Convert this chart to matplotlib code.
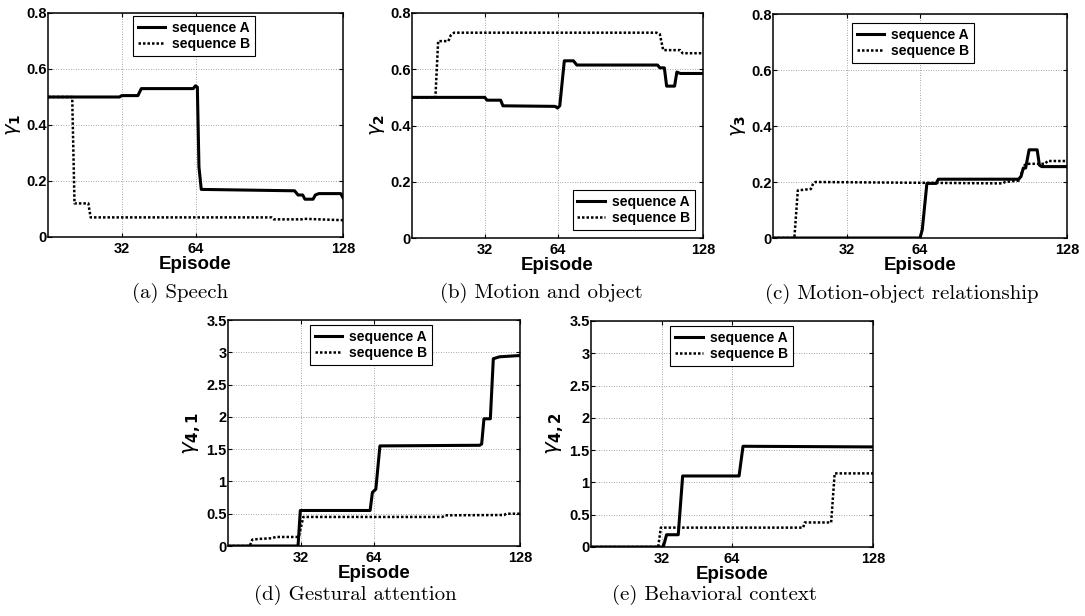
import matplotlib
matplotlib.use("Agg")
import matplotlib.pyplot as plt

# ---- data (episode, value) ----
A_a_x = [0, 31, 32, 39, 40.5, 63, 64, 64.8, 65.5, 66.5, 107, 108.5, 110.5, 111.5, 115, 116, 117.5, 127, 128]
A_a_y = [0.50, 0.50, 0.505, 0.505, 0.53, 0.53, 0.54, 0.535, 0.25, 0.17, 0.165, 0.15, 0.15, 0.135, 0.135, 0.15, 0.155, 0.155, 0.14]
B_a_x = [0, 10.5, 11.5, 17.5, 18.5, 97, 98, 110, 111, 128]
B_a_y = [0.50, 0.50, 0.12, 0.12, 0.07, 0.07, 0.063, 0.063, 0.065, 0.06]

A_b_x = [0, 32, 33, 39, 40, 63, 64, 65, 67, 71, 72.5, 108, 109, 111, 112, 115.5, 116.5, 118, 128]
A_b_y = [0.50, 0.50, 0.49, 0.49, 0.47, 0.468, 0.462, 0.47, 0.63, 0.63, 0.615, 0.615, 0.605, 0.605, 0.54, 0.54, 0.59, 0.585, 0.585]
B_b_x = [0, 10.3, 11.5, 16, 17, 18.5, 107.5, 109, 110.5, 118, 119, 128]
B_b_y = [0.50, 0.50, 0.70, 0.70, 0.72, 0.73, 0.73, 0.725, 0.668, 0.668, 0.657, 0.657]

A_c_x = [0, 64, 65, 67, 71, 72, 107, 108, 109, 110, 111.5, 115, 116, 117, 128]
A_c_y = [0, 0, 0.03, 0.195, 0.195, 0.21, 0.21, 0.22, 0.25, 0.25, 0.315, 0.315, 0.26, 0.255, 0.255]
B_c_x = [0, 9.3, 10.8, 16.5, 17.5, 18.5, 100, 101, 107, 109.5, 110.5, 118.5, 119.5, 128]
B_c_y = [0, 0, 0.17, 0.175, 0.195, 0.2, 0.195, 0.2, 0.205, 0.26, 0.265, 0.265, 0.275, 0.275]

A_d_x = [0, 30.7, 31.7, 62.3, 63.3, 64.8, 66.6, 110.3, 111.2, 112.2, 115, 116.3, 119, 128]
A_d_y = [0, 0, 0.55, 0.55, 0.83, 0.88, 1.55, 1.56, 1.58, 1.97, 1.97, 2.9, 2.93, 2.95]
B_d_x = [0, 9.5, 10.7, 14, 19, 21, 31, 33, 94, 95, 121, 122, 128]
B_d_y = [0, 0, 0.10, 0.11, 0.12, 0.14, 0.14, 0.45, 0.45, 0.475, 0.48, 0.50, 0.50]

A_e_x = [0, 32.8, 34.3, 39.6, 41.6, 67.2, 69, 128]
A_e_y = [0, 0, 0.19, 0.19, 1.10, 1.10, 1.56, 1.55]
B_e_x = [0, 30.5, 31.7, 96.3, 97, 109, 110.6, 128]
B_e_y = [0, 0, 0.30, 0.30, 0.38, 0.38, 1.14, 1.14]

x_ticks = [32, 64, 128]
y_ticks_small = [0, 0.2, 0.4, 0.6, 0.8]
y_labels_small = ["0", "0.2", "0.4", "0.6", "0.8"]
y_ticks_big = [0, 0.5, 1, 1.5, 2, 2.5, 3, 3.5]
y_labels_big = ["0", "0.5", "1", "1.5", "2", "2.5", "3", "3.5"]
series_names = ["sequence A", "sequence B"]
captions = ["(a) Speech", "(b) Motion and object", "(c) Motion-object relationship",
            "(d) Gestural attention", "(e) Behavioral context"]
ylabels = [r"$\gamma_\mathbf{1}$", r"$\gamma_\mathbf{2}$", r"$\gamma_\mathbf{3}$",
           r"$\gamma_{\mathbf{4,1}}$", r"$\gamma_{\mathbf{4,2}}$"]

W, H = 1085, 616
fig = plt.figure(figsize=(W / 100, H / 100), dpi=100)
plt.rcParams['mathtext.fontset'] = 'dejavusans'

# axes boxes in pixels: left, right, top, bottom
boxes = [(48, 343, 13, 237), (412, 703, 13, 238), (773, 1067, 14, 238),
         (228, 520, 320, 546), (591, 873, 321, 547)]
cap_pos = [(180, 293), (541, 293), (902, 294), (355, 595), (714, 595)]
legend_locs = [("upper center", (0.495, 0.985)), ("lower right", (0.973, 0.036)),
               ("upper center", (0.476, 0.96)), ("upper center", (0.49, 0.978)),
               ("upper center", (0.498, 0.978))]
data = [(A_a_x, A_a_y, B_a_x, B_a_y), (A_b_x, A_b_y, B_b_x, B_b_y),
        (A_c_x, A_c_y, B_c_x, B_c_y), (A_d_x, A_d_y, B_d_x, B_d_y),
        (A_e_x, A_e_y, B_e_x, B_e_y)]
ylab_size = [14, 14, 14, 15.5, 15.5]

tickfont = dict(family="Liberation Sans", weight="bold", size=10.5)

for i, (box, d) in enumerate(zip(boxes, data)):
    l, r, t, b = box
    ax = fig.add_axes([l / W, 1 - b / H, (r - l) / W, (b - t) / H])
    ax.plot(d[0], d[1], color="black", lw=2.2, ls="-", label=series_names[0])
    ax.plot(d[2], d[3], color="black", lw=1.8, ls=(0, (1, 0.8)), label=series_names[1])
    ax.set_xlim(0, 128)
    if i < 3:
        ax.set_ylim(0, 0.8)
        ax.set_yticks(y_ticks_small)
        ax.set_yticklabels(y_labels_small, fontdict=tickfont)
    else:
        ax.set_ylim(0, 3.5)
        ax.set_yticks(y_ticks_big)
        ax.set_yticklabels(y_labels_big, fontdict=tickfont)
    ax.set_xticks(x_ticks)
    ax.set_xticklabels([str(v) for v in x_ticks], fontdict=tickfont)
    ax.grid(True, color="#888888", ls=(0, (1, 2)), lw=0.6)
    ax.tick_params(direction="in", length=3, width=0.8, top=True, right=True)
    ax.tick_params(axis="x", pad=3.5)
    ax.tick_params(axis="y", pad=1)
    for s in ax.spines.values():
        s.set_linewidth(1.1)
    ax.set_xlabel("Episode", fontfamily="Liberation Sans", fontweight="bold", fontsize=13.5, labelpad=0)
    ax.set_ylabel(ylabels[i], fontsize=ylab_size[i], labelpad=2)
    loc, anchor = legend_locs[i]
    leg = ax.legend(loc=loc, bbox_to_anchor=anchor, fancybox=False, edgecolor="black",
                    framealpha=1, handlelength=2.0, borderpad=0.35, labelspacing=0.15,
                    handletextpad=0.5, borderaxespad=0,
                    prop=dict(family="Liberation Sans", weight="bold", size=10))
    leg.get_frame().set_linewidth(0.8)
    cx, cy = cap_pos[i]
    fig.text(cx / W, 1 - cy / H, captions[i], ha="center", va="center",
             fontfamily="cmr10", fontsize=15)

fig.savefig("out.png", dpi=100)
